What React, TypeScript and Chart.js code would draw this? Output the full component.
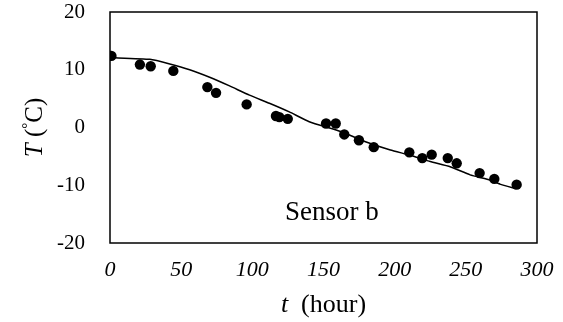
import { useEffect, useRef } from 'react';
import { Chart, registerables } from 'chart.js';

Chart.register(...registerables);

// Measured temperatures (dots)
const measTime = [1, 21, 28.6, 44.5, 68.4, 74.5, 96, 116.6, 119, 124.9, 151.8, 158.6, 164.6, 174.9, 185.3, 210.3, 219.4, 226, 237.3, 243.6, 259.7, 270, 285.7];
const measTemp = [12.4, 10.9, 10.6, 9.8, 7.0, 6.0, 4.0, 2.0, 1.8, 1.5, 0.7, 0.7, -1.2, -2.2, -3.4, -4.3, -5.3, -4.7, -5.3, -6.2, -7.9, -8.9, -9.9];

// Model curve (solid line)
const modelTime = [0, 28, 42, 56, 70, 84, 98, 112, 126, 140, 162, 180, 197, 211, 225, 239, 253, 267, 274, 285];
const modelTemp = [12.1, 11.8, 11.0, 10.0, 8.7, 7.2, 5.6, 4.2, 2.7, 1.0, -0.7, -2.5, -3.9, -4.8, -5.9, -6.8, -8.2, -9.1, -9.8, -10.6];

const xTickValues = [0, 50, 100, 150, 200, 250, 300];
const yTickValues = [-20, -10, 0, 10, 20];

const annotationText = 'Sensor b';
const annotationAt = { t: 123, T: -16 };

const SERIF = '"Liberation Serif", "Times New Roman", serif';

export default function App() {
  const ref = useRef<HTMLCanvasElement | null>(null);

  useEffect(() => {
    if (!ref.current) return;

    const framePlugin = {
      id: 'frameAndTitles',
      afterDraw(chart: any) {
        const { ctx, chartArea, scales } = chart;
        ctx.save();
        // box
        ctx.strokeStyle = '#000';
        ctx.lineWidth = 1.5;
        ctx.strokeRect(chartArea.left, chartArea.top, chartArea.right - chartArea.left, chartArea.bottom - chartArea.top);

        ctx.fillStyle = '#000';
        ctx.textBaseline = 'alphabetic';
        ctx.textAlign = 'left';

        // x title: "t (hour)"
        const cx = (chartArea.left + chartArea.right) / 2;
        const by = chartArea.bottom + 69;
        ctx.font = `italic 26px ${SERIF}`;
        const w1 = ctx.measureText('t').width;
        ctx.font = `26px ${SERIF}`;
        const w2 = ctx.measureText('(hour)').width;
        const gap = 13;
        const x0 = cx - (w1 + gap + w2) / 2;
        ctx.font = `italic 26px ${SERIF}`;
        ctx.fillText('t', x0, by);
        ctx.font = `26px ${SERIF}`;
        ctx.fillText('(hour)', x0 + w1 + gap, by);

        // y title: "T (°C)" rotated
        ctx.save();
        const cyy = (chartArea.top + chartArea.bottom) / 2;
        ctx.translate(chartArea.left - 68, cyy);
        ctx.rotate(-Math.PI / 2);
        ctx.font = `italic 25px ${SERIF}`;
        const a = ctx.measureText('T').width;
        ctx.font = `25px ${SERIF}`;
        const b = ctx.measureText(' (').width;
        ctx.font = `15px ${SERIF}`;
        const c = ctx.measureText('°').width;
        ctx.font = `25px ${SERIF}`;
        const d = ctx.measureText('C)').width;
        let sx = -(a + b + c + d) / 2;
        ctx.font = `italic 25px ${SERIF}`;
        ctx.fillText('T', sx, 0);
        sx += a;
        ctx.font = `25px ${SERIF}`;
        ctx.fillText(' (', sx, 0);
        sx += b;
        ctx.font = `15px ${SERIF}`;
        ctx.fillText('°', sx, -10);
        sx += c;
        ctx.font = `25px ${SERIF}`;
        ctx.fillText('C)', sx, 0);
        ctx.restore();

        // annotation
        ctx.font = `27px ${SERIF}`;
        ctx.fillText(annotationText, scales.x.getPixelForValue(annotationAt.t), scales.y.getPixelForValue(annotationAt.T));
        ctx.restore();
      },
    };

    const chart = new Chart(ref.current, {
      type: 'scatter',
      data: {
        datasets: [
          {
            label: 'Measured',
            data: measTime.map((t, i) => ({ x: t, y: measTemp[i] })),
            pointRadius: 5.2,
            pointBackgroundColor: '#000',
            pointBorderWidth: 0,
            showLine: false,
            order: 0,
          },
          {
            label: 'Model',
            data: modelTime.map((t, i) => ({ x: t, y: modelTemp[i] })),
            showLine: true,
            pointRadius: 0,
            borderColor: '#000',
            borderWidth: 1.5,
            tension: 0.15,
            order: 1,
          },
        ],
      },
      options: {
        responsive: false,
        animation: false,
        layout: { padding: { top: 12, right: 26, left: 0, bottom: 0 } },
        plugins: {
          legend: { display: false },
          tooltip: { enabled: false },
        },
        scales: {
          x: {
            type: 'linear',
            min: 0,
            max: 300,
            afterBuildTicks: (axis: any) => {
              axis.ticks = xTickValues.map((v) => ({ value: v }));
            },
            afterFit: (axis: any) => {
              axis.height = 79;
              axis.paddingLeft = 0;
              axis.paddingRight = 0;
              axis.paddingTop = 0;
              axis.paddingBottom = 0;
            },
            grid: { display: false, drawTicks: false },
            border: { display: false },
            ticks: {
              color: '#000',
              padding: 14,
              maxRotation: 0,
              font: { family: SERIF, size: 22, style: 'italic' },
            },
          },
          y: {
            type: 'linear',
            min: -20,
            max: 20,
            afterBuildTicks: (axis: any) => {
              axis.ticks = yTickValues.map((v) => ({ value: v }));
            },
            afterFit: (axis: any) => {
              axis.width = 110;
              axis.paddingLeft = 0;
              axis.paddingRight = 0;
              axis.paddingTop = 0;
              axis.paddingBottom = 0;
            },
            grid: { display: false, drawTicks: false },
            border: { display: false },
            ticks: {
              color: '#000',
              padding: 25,
              font: { family: SERIF, size: 21 },
            },
          },
        },
      },
      plugins: [framePlugin],
    });

    return () => chart.destroy();
  }, []);

  return (
    <div style={{ position: 'fixed', left: 0, top: 0, width: 563, height: 322, background: '#fff' }}>
      <canvas ref={ref} width={563} height={322} style={{ width: 563, height: 322, display: 'block' }} />
    </div>
  );
}
